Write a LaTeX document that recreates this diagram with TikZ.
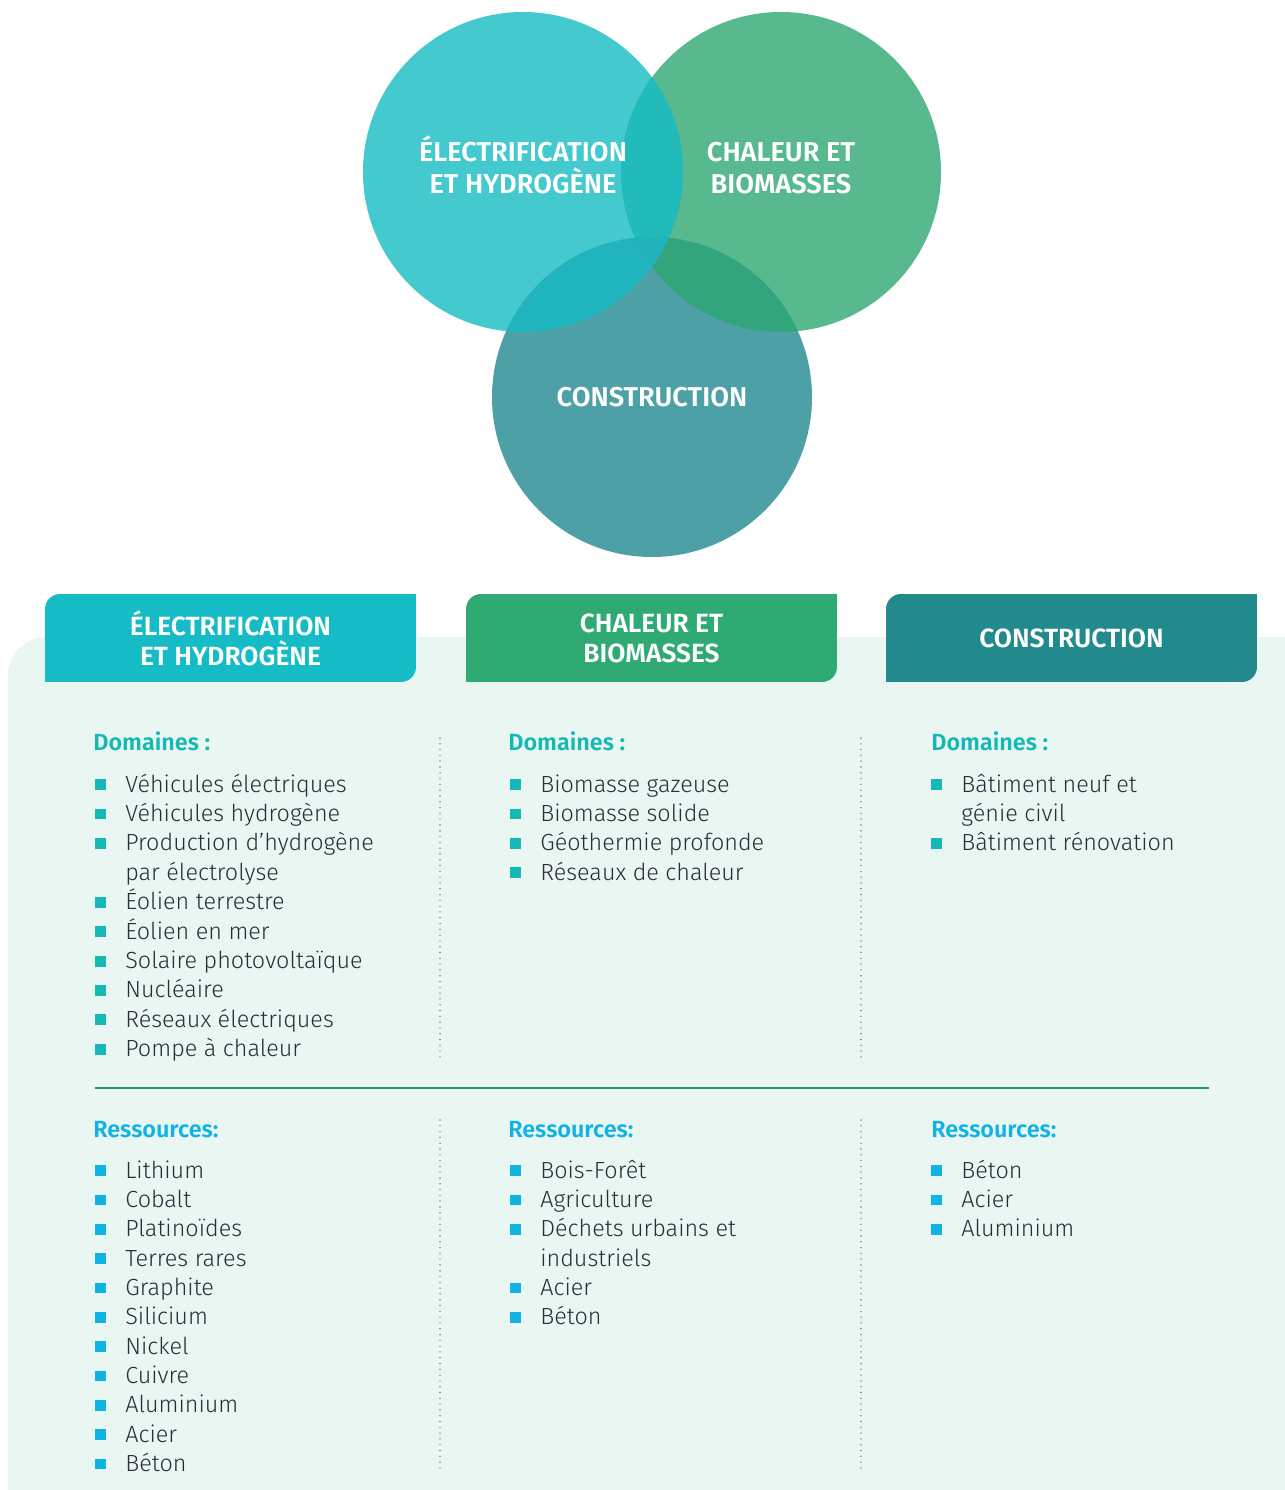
\documentclass[tikz,border=0pt]{standalone}
\usepackage{fontspec}
\setmainfont{Fira Sans}[UprightFont=* Light, BoldFont=* SemiBold]

\definecolor{elecc}{HTML}{43C9CE}
\definecolor{chalc}{HTML}{58B98F}
\definecolor{consc}{HTML}{4DA0A5}
\definecolor{elchal}{HTML}{22BBBB}
\definecolor{elcons}{HTML}{20B5BE}
\definecolor{chcons}{HTML}{33A57C}
\definecolor{triple}{HTML}{1FB3BB}
\definecolor{tabelec}{HTML}{16BCC5}
\definecolor{tabchal}{HTML}{2EAA72}
\definecolor{tabcons}{HTML}{228A8D}
\definecolor{panel}{HTML}{EAF6F2}
\definecolor{domc}{HTML}{14B8B4}
\definecolor{resc}{HTML}{10B4E4}
\definecolor{txt}{HTML}{2A2C3A}
\definecolor{sepc}{HTML}{2A9A60}
\definecolor{dotc}{HTML}{7C7C8C}

\begin{document}
\begin{tikzpicture}[x=0.02cm, y=-0.02cm,
    venntxt/.style={text=white, align=center, font=\bfseries\fontsize{15.5}{18}\selectfont},
    tab/.style={minimum width=7.42cm, minimum height=1.76cm, inner sep=0pt,
        rounded corners=8.5pt, text=white, align=center,
        font=\bfseries\fontsize{15}{17}\selectfont},
    head/.style={anchor=base west, inner sep=0pt, font=\bfseries\fontsize{13.3}{15}\selectfont},
    list/.style={anchor=base west, inner sep=0pt, text=txt,
        font=\fontsize{13.3}{16.7}\selectfont, execute at begin node={\colorlet{bulc}{#1}}},
    dotline/.style={dotc, line width=0.9pt, line cap=round, dash pattern=on 0pt off 3.3pt}]
    \def\itm{\llap{\textcolor{bulc}{\rule[1.1pt]{6.2pt}{6.2pt}}\hspace{10.8pt}}}
    \def\lst#1{\begin{tabular}[t]{@{}l@{}}#1\end{tabular}}

    \useasboundingbox (0,0) rectangle (1284,1490);

    % venn
    \coordinate (cE) at (523,172);
    \coordinate (cC) at (781,172);
    \coordinate (cK) at (652,397);
    \fill[elecc] (cE) circle (160);
    \fill[chalc] (cC) circle (160);
    \fill[consc] (cK) circle (160);
    \begin{scope}
        \clip (cE) circle (160);
        \fill[elchal] (cC) circle (160);
        \fill[elcons] (cK) circle (160);
    \end{scope}
    \begin{scope}
        \clip (cC) circle (160);
        \fill[chcons] (cK) circle (160);
    \end{scope}
    \begin{scope}
        \clip (cE) circle (160);
        \clip (cC) circle (160);
        \fill[triple] (cK) circle (160);
    \end{scope}
    \node[venntxt] (vElec) at (523,165) {ÉLECTRIFICATION\\ET HYDROGÈNE};
    \node[venntxt] (vChal) at (781,168) {CHALEUR ET\\BIOMASSES};
    \node[venntxt] (vCons) at (652,397) {CONSTRUCTION};

    % table
    \fill[panel, rounded corners=22pt] (8,637) rectangle (1330,1540);
    \foreach \n/\c/\x/\t in {tElec/tabelec/230.5/{ÉLECTRIFICATION\\ET HYDROGÈNE},
            tChal/tabchal/651.5/{CHALEUR ET\\BIOMASSES}, tCons/tabcons/1071.5/{CONSTRUCTION}} {
        \node[tab, fill=\c] (\n) at (\x,638) {\t};
        \fill[\c] (\n.north east) rectangle ++(-20,20);
        \fill[\c] (\n.south west) rectangle ++(20,-20);
    }
    \foreach \x in {440,861} {
        \draw[dotline] (\x,738) -- (\x,1057);
        \draw[dotline] (\x,1120) -- (\x,1468);
    }
    \draw[sepc, line width=0.7pt] (95,1088) -- (1209,1088);

    \foreach \x [count=\i] in {93,508,931} {
        \node[head, text=domc] (dom\i) at (\x,750) {Domaines :};
        \node[head, text=resc] (res\i) at (\x,1137) {Ressources:};
    }

    \node[list=domc] (ldom1) at (125,792) {\lst{\itm Véhicules électriques\\
        \itm Véhicules hydrogène\\ \itm Production d’hydrogène\\ par électrolyse\\
        \itm Éolien terrestre\\ \itm Éolien en mer\\ \itm Solaire photovoltaïque\\
        \itm Nucléaire\\ \itm Réseaux électriques\\ \itm Pompe à chaleur}};
    \node[list=domc] (ldom2) at (540,792) {\lst{\itm Biomasse gazeuse\\
        \itm Biomasse solide\\ \itm Géothermie profonde\\ \itm Réseaux de chaleur}};
    \node[list=domc] (ldom3) at (961,792) {\lst{\itm Bâtiment neuf et\\
        génie civil\\ \itm Bâtiment rénovation}};

    \node[list=resc] (lres1) at (125,1178) {\lst{\itm Lithium\\ \itm Cobalt\\
        \itm Platinoïdes\\ \itm Terres rares\\ \itm Graphite\\ \itm Silicium\\
        \itm Nickel\\ \itm Cuivre\\ \itm Aluminium\\ \itm Acier\\ \itm Béton}};
    \node[list=resc] (lres2) at (540,1178) {\lst{\itm Bois-Forêt\\ \itm Agriculture\\
        \itm Déchets urbains et\\ industriels\\ \itm Acier\\ \itm Béton}};
    \node[list=resc] (lres3) at (961,1178) {\lst{\itm Béton\\ \itm Acier\\ \itm Aluminium}};
\end{tikzpicture}
\end{document}
